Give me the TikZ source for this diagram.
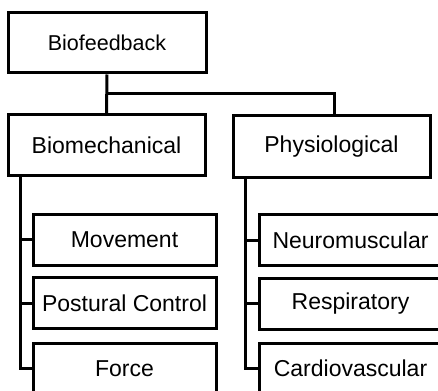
\documentclass[tikz,border=0pt]{standalone}
\usepackage{fontspec}
\setmainfont{Liberation Sans}
\begin{document}
\begin{tikzpicture}[x=1pt,y=-1pt,
  box/.style={draw, line width=3pt, inner sep=0pt, minimum width=197pt, minimum height=60pt, font=\fontsize{23}{27}\selectfont},
  kid/.style={box, minimum width=183pt, minimum height=51pt},
  conn/.style={line width=3pt}]
\useasboundingbox (0,0) rectangle (438,390);
\clip (0,0) rectangle (438,390);
\node[box, minimum width=198pt, font=\fontsize{21.5}{26}\selectfont] (bio) at (107,43) {Biofeedback};
\node[box] (mech) at (106.5,145) {Biomechanical};
\node[box, minimum height=61pt] (phys) at (331.5,146.5) {Physiological};
\node[kid] (mov) at (124.5,239.5) {Movement};
\node[kid] (post) at (124.5,303) {Postural Control};
\node[kid] (force) at (124.5,368.5) {Force};
\node[kid] (neuro) at (350.5,240) {Neuromuscular};
\node[kid] (resp) at (350.5,303.5) {Respiratory};
\node[kid] (card) at (350.5,368.5) {Cardiovascular};
\coordinate (j) at (107,94);
\draw[conn] (bio.south) -- (mech.north);
\draw[conn] (j) -| (phys.north -| 334,0);
\coordinate (ml) at (20,0);
\coordinate (pl) at (245,0);
\draw[conn] (mech.south -| ml) |- (force.west);
\draw[conn] (mov.west) -- (mov.west -| ml);
\draw[conn] (post.west) -- (post.west -| ml);
\draw[conn] (phys.south -| pl) |- (card.west);
\draw[conn] (neuro.west) -- (neuro.west -| pl);
\draw[conn] (resp.west) -- (resp.west -| pl);
\end{tikzpicture}
\end{document}
